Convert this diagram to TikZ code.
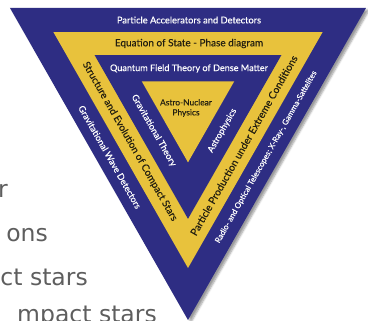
\documentclass[tikz,border=0pt]{standalone}
\usepackage{fontspec}
\setmainfont{Lato}[FakeBold=0.35]
\newfontfamily\slidefont{DejaVu Sans}
\usetikzlibrary{calc,shadows.blur}
\definecolor{triBlue}{HTML}{2E2D83}
\definecolor{triGold}{HTML}{E8C23C}
\definecolor{triInk}{HTML}{231F10}
\definecolor{slideGrey}{HTML}{5E5E5E}
\tikzset{
  tri diagram/.style={x=1pt, y=-1pt},
  tri light label/.style={text=white, inner sep=0pt, font=\fontsize{9}{10}\selectfont},
  tri dark label/.style={text=triInk, inner sep=0pt, font=\fontsize{10}{11}\selectfont},
  slide line/.style={font=\slidefont\fontsize{23.5}{26}\selectfont, text=slideGrey,
    anchor=base east, inner sep=0pt}
}

\begin{document}
\begin{tikzpicture}[tri diagram]
\useasboundingbox (0,0) rectangle (368,321);
\clip (0,0) rectangle (368,321);
\coordinate (center) at (188,107);
\coordinate (tl) at (10,8);
\coordinate (tr) at (366,8);
\coordinate (apex) at (188,320);
\fill[triBlue, blur shadow={shadow xshift=3pt, shadow yshift=-2pt, shadow blur steps=6}]
  (tl) -- (tr) -- (apex) -- cycle;
\foreach \s/\c in {0.756/triGold, 0.525/triBlue, 0.26/triGold}
  \fill[\c] ($(center)!\s!(tl)$) -- ($(center)!\s!(tr)$) -- ($(center)!\s!(apex)$) -- cycle;
\foreach \s/\band in {0.878/outer, 0.640/gold, 0.3925/inner} {
  \coordinate (\band-l) at ($(center)!\s!(tl)$);
  \coordinate (\band-r) at ($(center)!\s!(tr)$);
  \coordinate (\band-b) at ($(center)!\s!(apex)$);
}
\node[tri light label, font=\fontsize{9.3}{10}\selectfont] (accel) at (189,20) {Particle Accelerators and Detectors};
\node[tri dark label] (eos) at (189,43.5) {Equation of State - Phase diagram};
\node[tri light label, font=\fontsize{9.1}{10}\selectfont] (qft) at (189,68.5) {Quantum Field Theory of Dense Matter};
\node[tri dark label, align=center, font=\fontsize{8.4}{10}\selectfont] (astronuc) at (186,108) {Astro-Nuclear\\Physics};
\path (outer-l) -- node[sloped, tri light label] (gwdet) {Gravitational Wave Detectors} (outer-b);
\path (gold-l) -- node[sloped, pos=0.49, tri dark label] (struct) {Structure and Evolution of Compact Stars} (gold-b);
\path (inner-l) -- node[sloped, pos=0.51, tri light label] (gravth) {Gravitational Theory} (inner-b);
\path (inner-b) -- node[sloped, pos=0.49, tri light label, font=\fontsize{8.8}{10}\selectfont] (astro) {Astrophysics} (inner-r);
\path (gold-b) -- node[sloped, pos=0.49, tri dark label, font=\fontsize{10.2}{11}\selectfont] (partprod) {Particle Production under Extreme Conditions} (gold-r);
\path (outer-b) -- node[sloped, tri light label, font=\fontsize{7.9}{9}\selectfont] (telesc) {Radio- and Optical Telescopes; X-Ray-, Gamma-Sattelites} (outer-r);
\node[slide line] (line1) at (8,198) {r};
\node[slide line] (line2) at (48,242) {ons};
\node[slide line] (line3) at (88,286) {ct stars};
\node[slide line] (line4) at (157,323) {mpact stars};
\end{tikzpicture}
\end{document}
